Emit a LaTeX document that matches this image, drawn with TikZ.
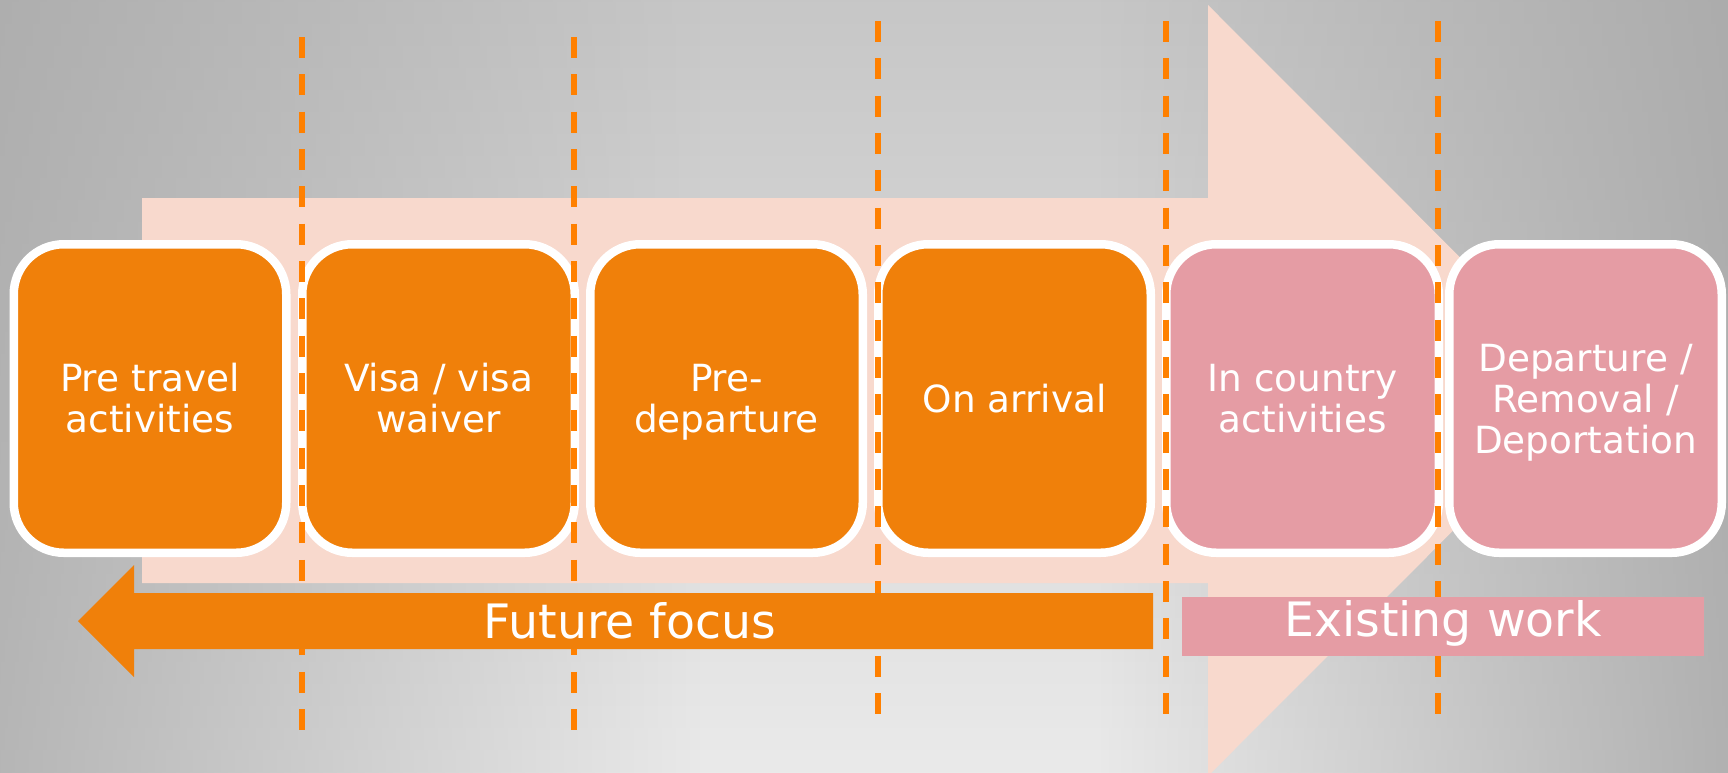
\documentclass[tikz,border=0pt]{standalone}
\usepackage{fontspec}
\setmainfont{DejaVu Sans}
\usetikzlibrary{fadings}
\definecolor{orangefill}{HTML}{F0800A}
\definecolor{dashorange}{HTML}{FF8000}
\definecolor{pinkfill}{HTML}{E59CA4}
\definecolor{peach}{HTML}{F8D9CD}
\definecolor{bgtop}{HTML}{C6C6C6}
\definecolor{bgbottom}{HTML}{EAEAEA}
\definecolor{vignette}{HTML}{A8A8A8}
\tikzfading[name=fadeleftedge, left color=transparent!20, middle color=transparent!80, right color=transparent!100]
\tikzfading[name=faderightedge, left color=transparent!100, middle color=transparent!88, right color=transparent!12]
\tikzset{
  stage/.style={draw=white, line width=4.25pt, rounded corners=25pt,
    minimum width=136.25pt, minimum height=154.25pt, inner sep=0pt,
    text=white, align=center, font=\fontsize{18.7}{20.5}\selectfont},
  stageorange/.style={stage, fill=orangefill},
  stagepink/.style={stage, fill=pinkfill},
  divider/.style={draw=dashorange, line width=2.65pt, dash pattern=on 10.5pt off 8.17pt},
  bigtext/.style={text=white, inner sep=0pt, font=\fontsize{23.7}{28}\selectfont},
}
\begin{document}
\begin{tikzpicture}[x=0.5pt,y=-0.5pt]
\useasboundingbox (0,0) rectangle (1728,772);
% background
\begin{scope}
  \clip (0,0) rectangle (1728,772);
  \shade[top color=bgtop, bottom color=bgbottom] (-10,-10) rectangle (1740,782);
  \fill[vignette, path fading=fadeleftedge] (-10,-10) rectangle (700,782);
  \fill[vignette, path fading=faderightedge] (1100,-10) rectangle (1740,782);
\end{scope}
% big peach arrow
\fill[peach] (142,198) -- (1208,198) -- (1208,5) -- (1593,390.5) -- (1208,776) -- (1208,583) -- (142,583) -- cycle;
% stages
\node[stageorange] (s1) at (150,398.5) {Pre travel\\activities};
\node[stageorange] (s2) at (438.5,398.5) {Visa / visa\\waiver};
\node[stageorange] (s3) at (726.5,398.5) {Pre-\\\smash{departure}};
\node[stageorange] (s4) at (1014.5,398.5) {On arrival};
\node[stagepink] (s5) at (1302.5,398.5) {In country\\activities};
\node[stagepink] (s6) at (1585.5,398.5) {Departure /\\Removal /\\\smash{Deportation}};
% dividers
\draw[divider] (302,37) -- (302,731);
\draw[divider] (574,37) -- (574,731);
\draw[divider] (878,21) -- (878,714);
\draw[divider] (1166,21) -- (1166,714);
\draw[divider] (1438,21) -- (1438,714);
% future focus arrow
\fill[orangefill] (78,621) -- (134,565) -- (134,593) -- (1153,593) -- (1153,649) -- (134,649) -- (134,677) -- cycle;
\node[bigtext, anchor=base] (ff) at (630,638) {Future focus};
% existing work
\node[fill=pinkfill, minimum width=261pt, minimum height=29.5pt, inner sep=0pt] (ew) at (1443,626.5) {};
\node[bigtext, anchor=base] (ewt) at (1443,636) {Existing work};
\end{tikzpicture}
\end{document}
